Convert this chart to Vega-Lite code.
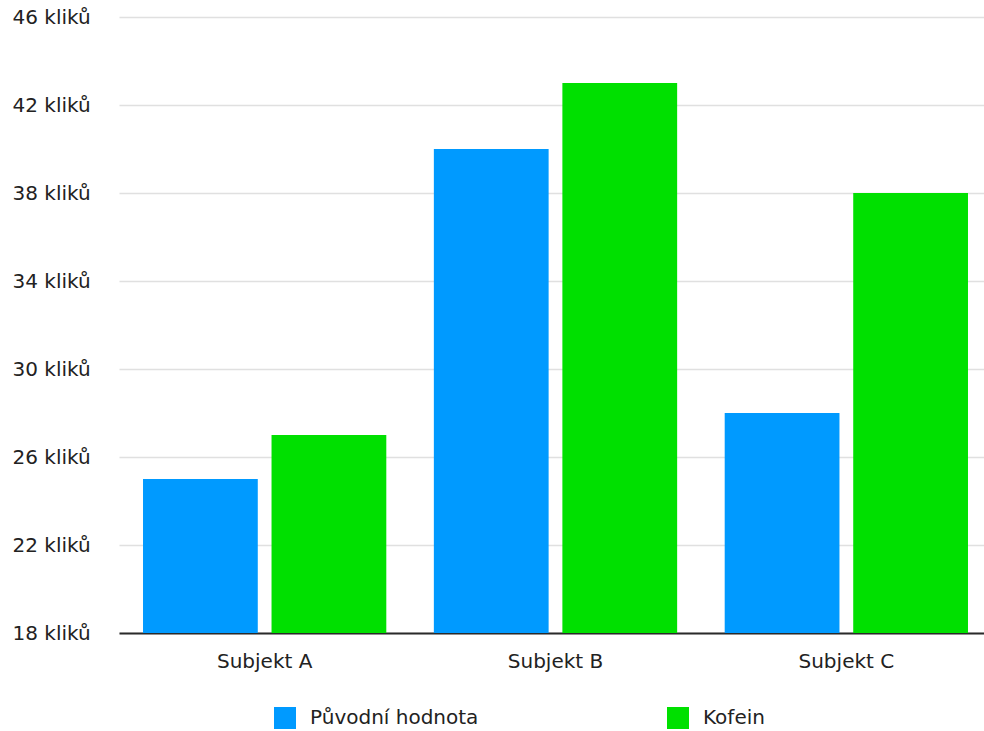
{
  "$schema": "https://vega.github.io/schema/vega-lite/v6.json",
  "autosize": {"type": "none"},
  "width": 865,
  "height": 616,
  "padding": {"left": 119, "top": 17, "right": 0, "bottom": 98},
  "background": "white",
  "data": {
    "values": [
      {"subjekt": "Subjekt A", "serie": "Původní hodnota", "kliky": 25},
      {"subjekt": "Subjekt A", "serie": "Kofein", "kliky": 27},
      {"subjekt": "Subjekt B", "serie": "Původní hodnota", "kliky": 40},
      {"subjekt": "Subjekt B", "serie": "Kofein", "kliky": 43},
      {"subjekt": "Subjekt C", "serie": "Původní hodnota", "kliky": 28},
      {"subjekt": "Subjekt C", "serie": "Kofein", "kliky": 38}
    ]
  },
  "config": {
    "view": {"stroke": null},
    "font": "DejaVu Sans"
  },
  "mark": {"type": "bar", "clip": true},
  "encoding": {
    "x": {
      "field": "subjekt",
      "type": "nominal",
      "sort": null,
      "scale": {"paddingInner": 0.1635, "paddingOuter": 0.0688, "align": 0.6},
      "axis": {
        "title": null,
        "labelAngle": 0,
        "labelFont": "DejaVu Sans",
        "labelFontSize": 20,
        "labelColor": "#222222",
        "labelPadding": 18,
        "ticks": false,
        "domainColor": "#2a2a2a",
        "domainWidth": 2
      }
    },
    "xOffset": {
      "field": "serie",
      "type": "nominal",
      "sort": ["Původní hodnota", "Kofein"],
      "scale": {"paddingInner": 0.107, "paddingOuter": 0}
    },
    "y": {
      "field": "kliky",
      "type": "quantitative",
      "scale": {"domain": [18, 46], "zero": false, "nice": false},
      "axis": {
        "title": null,
        "values": [18, 22, 26, 30, 34, 38, 42, 46],
        "labelExpr": "datum.value + ' kliků'",
        "labelFont": "DejaVu Sans",
        "labelFontSize": 20,
        "labelColor": "#222222",
        "labelAlign": "left",
        "labelPadding": 107,
        "ticks": false,
        "domain": false,
        "gridColor": "#e0e0e0",
        "gridWidth": 1.5
      }
    },
    "color": {
      "field": "serie",
      "type": "nominal",
      "sort": ["Původní hodnota", "Kofein"],
      "scale": {"domain": ["Původní hodnota", "Kofein"], "range": ["#009AFF", "#00E000"]},
      "legend": {
        "title": null,
        "orient": "none",
        "direction": "horizontal",
        "legendX": 155,
        "legendY": 690,
        "symbolType": "square",
        "symbolSize": 484,
        "symbolStrokeWidth": 0,
        "labelFont": "DejaVu Sans",
        "labelFontSize": 20,
        "labelColor": "#222222",
        "labelOffset": 14,
        "columnPadding": 188,
        "labelLimit": 400
      }
    }
  }
}
